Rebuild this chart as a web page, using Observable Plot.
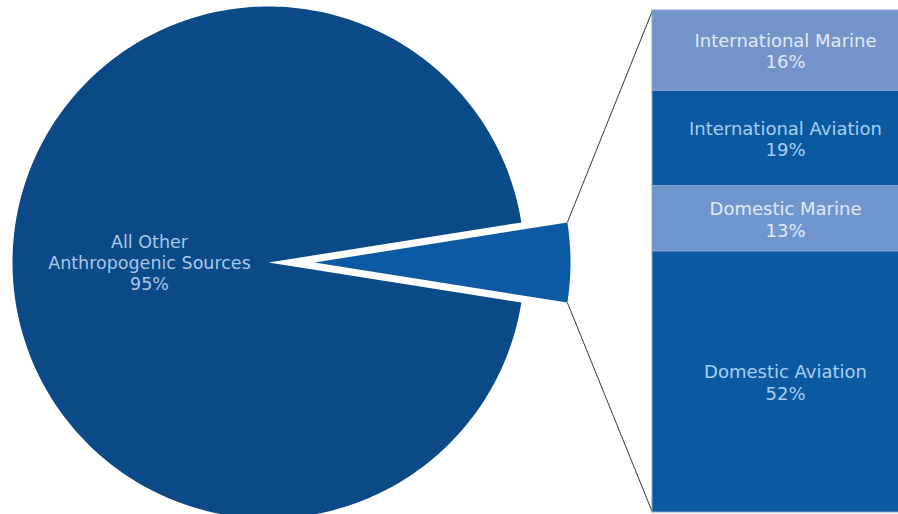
<!DOCTYPE html>
<html><head><meta charset="utf-8">
<script src="https://cdn.jsdelivr.net/npm/d3@7"></script>
<script src="https://cdn.jsdelivr.net/npm/@observablehq/plot@0.6"></script>
<style>
html,body{margin:0;padding:0;background:#fff;overflow:hidden;}
#chart{width:898px;height:514px;}
</style>
</head><body><div id="chart"></div>
<script>
// ---- data ----
const pieCategories = ["All Other\nAnthropogenic Sources", "Aviation and Marine"];
const pieValues = [95, 5];
const barCategories = ["International Marine", "International Aviation", "Domestic Marine", "Domestic Aviation"];
const barValues = [16, 19, 13, 52];

// ---- layout & style ----
const W = 898, H = 514;
const PIE = {cx: 268, cy: 262, r: 256, explode: 46, labelShift: 0.465, steps: 360};
const BAR = {x1: 652, x2: 918, top: 10, bottom: 512};
const COLORS = {
  pie: "#0a4a86", wedge: "#0c5aa3",
  bar: {"International Marine": "#7494c9", "International Aviation": "#0b5aa1", "Domestic Marine": "#6f97ce", "Domestic Aviation": "#0b5aa1"},
  barText: {"International Marine": "#e2eaf6", "International Aviation": "#a9cff2", "Domestic Marine": "#e2eaf6", "Domestic Aviation": "#a9cff2"},
  barStroke: "#86a8d8",
  pieText: "#a9c8e8", connector: "#2e3a48"
};

// ---- derived geometry from data ----
const a0 = 0.55 * Math.PI;
const arcs = d3.pie().sort(null).startAngle(a0).endAngle(a0 + 2 * Math.PI)(pieValues);
const polys = arcs.map((a, i) => {
  const mid = (a.startAngle + a.endAngle) / 2;
  const off = i === 1 ? PIE.explode : 0;
  const ox = PIE.cx + off * Math.sin(mid), oy = PIE.cy - off * Math.cos(mid);
  const n = Math.max(8, Math.round(PIE.steps * (a.endAngle - a.startAngle) / (2 * Math.PI)));
  const pts = [{x: ox, y: oy}];
  for (let t = 0; t <= n; t++) {
    const ang = a.startAngle + (a.endAngle - a.startAngle) * t / n;
    pts.push({x: ox + PIE.r * Math.sin(ang), y: oy - PIE.r * Math.cos(ang)});
  }
  pts.push({x: ox, y: oy});
  return {pts, ox, oy, a};
});
const w = polys[1];
const connectors = [
  {x1: w.ox + PIE.r * Math.sin(w.a.startAngle), y1: w.oy - PIE.r * Math.cos(w.a.startAngle), x2: BAR.x1, y2: BAR.top},
  {x1: w.ox + PIE.r * Math.sin(w.a.endAngle), y1: w.oy - PIE.r * Math.cos(w.a.endAngle), x2: BAR.x1, y2: BAR.bottom}
];
const total = d3.sum(barValues);
const k = (BAR.bottom - BAR.top) / total;
let cum = 0;
const barSegs = barCategories.map((c, i) => {
  const s = {category: c, value: barValues[i], y1: BAR.top + cum * k, y2: BAR.top + (cum + barValues[i]) * k};
  cum += barValues[i];
  return s;
});
const pieLabel = [{text: `${pieCategories[0]}\n${pieValues[0]}%`, x: PIE.cx - PIE.labelShift * PIE.r, y: PIE.cy}];

const plot = Plot.plot({
  width: W, height: H, margin: 0,
  x: {domain: [0, W], range: [0, W], axis: null},
  y: {domain: [0, H], range: [0, H], axis: null},
  color: {type: "identity"},
  style: {background: "white", fontFamily: "'DejaVu Sans', sans-serif"},
  marks: [
    Plot.line(polys[0].pts, {x: "x", y: "y", fill: COLORS.pie, stroke: "none"}),
    Plot.line(polys[1].pts, {x: "x", y: "y", fill: COLORS.wedge, stroke: "none"}),
    Plot.link(connectors, {x1: "x1", y1: "y1", x2: "x2", y2: "y2", stroke: COLORS.connector, strokeWidth: 1}),
    Plot.rect(barSegs, {x1: () => BAR.x1, x2: () => BAR.x2, y1: "y1", y2: "y2",
      fill: d => COLORS.bar[d.category], stroke: COLORS.barStroke, strokeWidth: 1}),
    Plot.text(barSegs, {x: () => (BAR.x1 + BAR.x2) / 2, y: d => (d.y1 + d.y2) / 2,
      text: d => `${d.category}\n${d.value}%`, fill: d => COLORS.barText[d.category],
      fontSize: 18, lineHeight: 1.2, textAnchor: "middle"}),
    Plot.text(pieLabel, {x: "x", y: "y", text: "text", fill: COLORS.pieText,
      fontSize: 17.5, lineHeight: 1.2, textAnchor: "middle"})
  ]
});
document.getElementById("chart").appendChild(plot);
</script>
</body></html>
